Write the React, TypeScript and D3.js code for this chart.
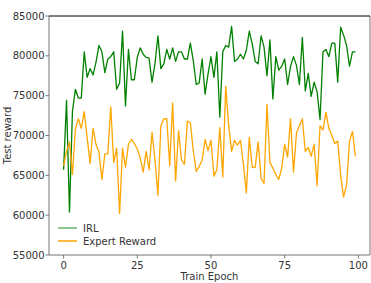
import React from "react";
import * as d3 from "d3";

const irl = [65700, 74400, 60400, 73000, 75800, 74700, 74700, 80500, 77300, 78400,
  77600, 79200, 81300, 80500, 77900, 79600, 79900, 80500, 75800, 76600,
  83100, 73700, 80800, 77000, 77000, 79800, 81000, 80200, 79800, 79700,
  76700, 79000, 82500, 78400, 79000, 80800, 79600, 81000, 79300, 80500,
  80500, 79600, 79600, 81600, 79400, 76400, 76600, 79600, 75200, 77700,
  79900, 77300, 80500, 72300, 80500, 81300, 81100, 83700, 79300, 79600,
  80200, 79600, 80700, 83100, 81500, 79300, 79000, 82500, 81100, 77500,
  82000, 74600, 79900, 78200, 78700, 79600, 76400, 78700, 79900, 78800,
  76400, 82300, 75600, 77800, 74900, 76700, 75500, 72000, 80500, 80800,
  79900, 81600, 81600, 76700, 83600, 82600, 81300, 78700, 80500, 80500];

const expert = [66200, 68000, 69200, 65100, 70800, 72100, 70900, 73000, 69700, 66500,
  70900, 68900, 67900, 64500, 67700, 67700, 73600, 66600, 68400, 60200,
  68400, 66000, 68900, 69500, 69000, 68300, 67200, 65400, 68000, 65700,
  70400, 67000, 62500, 71200, 72100, 72100, 66200, 74100, 64300, 70600,
  66900, 66400, 71800, 71600, 68100, 65500, 66100, 66900, 69500, 68100,
  69400, 64900, 65700, 71000, 64800, 76200, 71300, 68000, 69400, 68800,
  69400, 66400, 62800, 69800, 66000, 66000, 69200, 64600, 64000, 73900,
  66600, 65900, 65100, 64500, 65900, 68900, 67300, 72100, 65400, 70300,
  71200, 72100, 68000, 68500, 67400, 68900, 63700, 71200, 70700, 72900,
  70900, 70000, 69000, 69300, 65000, 62300, 63800, 69300, 70500, 67400];

const xTicks = [0, 25, 50, 75, 100];
const yTicks = [55000, 60000, 65000, 70000, 75000, 80000, 85000];
const seriesNames = ["IRL", "Expert Reward"];
const xLabel = "Train Epoch";
const yLabel = "Test reward";

export default function App() {
  const W = 371, H = 283;
  const left = 49, right = 370, top = 16, bottom = 255;
  const x = d3.scaleLinear().domain([-4.95, 103.95]).range([left, right]);
  const y = d3.scaleLinear().domain([55000, 85000]).range([bottom, top]);
  const line = d3.line<number>().x((_, i) => x(i)).y((d) => y(d));
  const font = "DejaVu Sans, sans-serif";
  const textColor = "#333";
  const axisColor = "#777";
  return (
    <svg width={W} height={H} style={{ position: "absolute", left: 0, top: 0 }} fontFamily={font}>
      <rect width={W} height={H} fill="white" />
      <defs>
        <clipPath id="plot">
          <rect x={left} y={top} width={right - left} height={bottom - top} />
        </clipPath>
      </defs>
      <g clipPath="url(#plot)">
        <path d={line(irl) || ""} fill="none" stroke="green" strokeWidth={1.3} strokeLinejoin="round" />
        <path d={line(expert) || ""} fill="none" stroke="orange" strokeWidth={1.3} strokeLinejoin="round" />
      </g>
      <line x1={left} x2={left} y1={top} y2={bottom} stroke={axisColor} strokeWidth={1} />
      <line x1={left} x2={right} y1={bottom} y2={bottom} stroke={axisColor} strokeWidth={1} />
      <line x1={right} x2={right} y1={top} y2={bottom} stroke={axisColor} strokeWidth={1} />
      <line x1={left} x2={right} y1={top} y2={top} stroke="black" strokeWidth={1} />
      {yTicks.map((t) => (
        <g key={t}>
          <line x1={left - 3.5} x2={left} y1={y(t)} y2={y(t)} stroke={axisColor} />
          <text x={left - 4.5} y={y(t)} dy="0.35em" textAnchor="end" fontSize={10} fill={textColor}>{t}</text>
        </g>
      ))}
      {xTicks.map((t) => (
        <g key={t}>
          <line x1={x(t)} x2={x(t)} y1={bottom} y2={bottom + 3.5} stroke={axisColor} />
          <text x={x(t)} y={bottom + 14} textAnchor="middle" fontSize={10} fill={textColor}>{t}</text>
        </g>
      ))}
      <text x={(left + right) / 2} y={280} textAnchor="middle" fontSize={10} fill={textColor}>{xLabel}</text>
      <text transform={`translate(11,${(top + bottom) / 2}) rotate(-90)`} textAnchor="middle" fontSize={10} fill={textColor}>{yLabel}</text>
      <g>
        <line x1={58} x2={77} y1={228} y2={228} stroke="green" strokeOpacity={0.6} strokeWidth={1.5} />
        <text x={83} y={228} dy="0.35em" fontSize={10} fill={textColor}>{seriesNames[0]}</text>
        <line x1={58} x2={77} y1={241} y2={241} stroke="orange" strokeWidth={1.5} />
        <text x={83} y={241} dy="0.35em" fontSize={10} fill={textColor}>{seriesNames[1]}</text>
      </g>
    </svg>
  );
}
